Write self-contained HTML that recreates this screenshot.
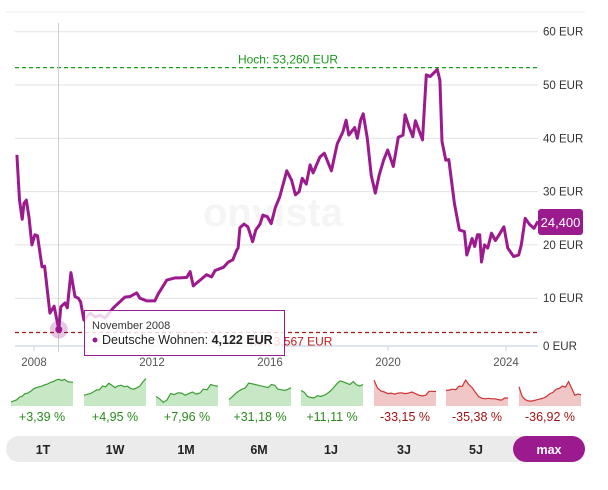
<!DOCTYPE html>
<html><head><meta charset="utf-8"><style>
body{margin:0;background:#fff;font-family:"Liberation Sans",sans-serif;}
#wrap{position:relative;width:608px;height:490px;overflow:hidden;}
svg text{font-family:"Liberation Sans",sans-serif;}
</style></head><body>
<div id="wrap">
<svg id="chart" width="608" height="490"></svg>
</div>
<script>
const years=[2007.42,2007.51,2007.60,2007.66,2007.74,2007.83,2007.93,2008.03,2008.12,2008.27,2008.36,2008.54,2008.68,2008.84,2008.91,2009.05,2009.13,2009.25,2009.39,2009.50,2009.58,2009.69,2009.90,2010.07,2010.24,2010.41,2010.69,2011.08,2011.25,2011.48,2011.59,2011.82,2012.10,2012.21,2012.50,2012.78,2012.95,2013.18,2013.29,2013.40,2013.63,2013.85,2014.02,2014.14,2014.42,2014.59,2014.74,2014.87,2014.92,2014.98,2015.12,2015.25,2015.41,2015.52,2015.66,2015.76,2015.91,2016.04,2016.18,2016.33,2016.57,2016.73,2016.86,2016.99,2017.09,2017.23,2017.36,2017.46,2017.69,2017.84,2018.08,2018.28,2018.47,2018.58,2018.67,2018.87,2018.96,2019.07,2019.16,2019.30,2019.43,2019.57,2019.70,2019.85,2019.99,2020.18,2020.35,2020.51,2020.58,2020.71,2020.84,2020.93,2021.17,2021.30,2021.43,2021.67,2021.76,2021.83,2021.96,2022.06,2022.25,2022.42,2022.59,2022.67,2022.85,2022.94,2023.03,2023.11,2023.17,2023.27,2023.38,2023.51,2023.64,2023.80,2023.93,2024.06,2024.26,2024.43,2024.52,2024.65,2024.79,2024.95,2025.08];
const prices=[36.9,28.4,24.8,27.8,28.4,25.2,20,21.9,21.7,15.9,16,7.2,8.5,4.122,8.4,9.1,8.2,14.8,10.3,10,9.3,5.9,7.2,6.5,6.8,6.3,8.2,10.2,10.3,11,10,9.5,9.5,10.8,13.4,13.8,13.8,13.9,15,12.3,13.4,14.4,14,15.2,15.8,16.8,17.2,19,19.4,23.2,23.9,23.4,20.6,22.8,23.9,25.6,25.3,24,27,29,33.9,32.2,29.4,30,32.5,31.4,35,33.5,36.5,37.2,33.9,39,41.2,43.4,40.6,42,40,43.4,44.6,40,33.1,29.7,33.1,35.9,37.8,34.7,40.2,40.6,44.4,42.2,40.3,43.3,39.7,51.9,51.6,52.9,50.9,39.4,35.9,36,27.8,22.8,22.5,18.1,21.2,19.7,21.9,21.9,16.8,20,19.4,22.2,20.8,22.2,23.4,19.4,17.8,18.1,20,25,23.9,23.1,24.4];
const yTicks=[0,10,20,30,40,50,60];
const xTicks=[2008,2012,2016,2020,2024];
const highValue=53.26, lowValue=3.567, lastValue="24,400";
const sparkLabels=["+3,39 %","+4,95 %","+7,96 %","+31,18 %","+11,11 %","-33,15 %","-35,38 %","-36,92 %"];
const sparkData=[
[.08,.12,.16,.26,.30,.40,.42,.49,.58,.63,.66,.69,.74,.77,.83,.86,.92,.95,.90,.95,.86,.84,.84],
[.34,.37,.40,.46,.54,.55,.69,.66,.80,.72,.63,.70,.72,.66,.69,.60,.57,.62,.69,.85,.98],
[.29,.20,.06,.15,.40,.36,.43,.42,.34,.40,.46,.38,.42,.57,.55,.75,.70,.69],
[.17,.28,.40,.50,.57,.62,.80,.78,.75,.72,.69,.66,.63,.75,.72,.57,.55,.52,.56,.63],
[.52,.45,.29,.25,.23,.32,.29,.33,.40,.50,.63,.78,.89,.85,.80,.75,.86,.74,.69,.75],
[.92,.62,.50,.46,.40,.42,.38,.42,.43,.40,.42,.46,.40,.34,.31,.34,.49,.49,.48],
[.52,.54,.57,.55,.69,.68,.92,.75,.63,.45,.29,.22,.20,.22,.20,.20,.17,.15,.23,.23],
[.66,.30,.17,.12,.11,.14,.17,.20,.23,.30,.40,.45,.57,.60,.69,.65,.86,.60,.34,.38,.36]];
const periods=["1T","1W","1M","6M","1J","3J","5J","max"];

const NS="http://www.w3.org/2000/svg";
const svg=document.getElementById('chart');
function el(tag,attrs,parent){const e=document.createElementNS(NS,tag);for(const k in attrs)e.setAttribute(k,attrs[k]);(parent||svg).appendChild(e);return e;}
const X=t=>34+(t-2008)*29.5;
const Y=v=>351.5-v*5.33;

let e;
e=el('line',{x1:6,x2:585,y1:12,y2:12,stroke:'#ececec','stroke-width':1});


yTicks.forEach(v=>{
 if(v>0){e=el('line',{x1:15,x2:538,y1:Y(v),y2:Y(v),stroke:'#e2e2e2','stroke-width':1});
 
 }
 e=el('text',{x:543,y:(v===0?346:Y(v))+4,'font-size':11.5,fill:'#333'});e.textContent=v+' EUR';
 
 
});
e=el('line',{x1:15,x2:538,y1:346,y2:346,stroke:'#c9d3e6','stroke-width':1.2});


xTicks.forEach(t=>{
 e=el('line',{x1:X(t),x2:X(t),y1:346,y2:351,stroke:'#c9d3e6'});
 
 
 e=el('text',{x:X(t),y:366,'font-size':11.5,fill:'#555','text-anchor':'middle'});e.textContent=t;
 
 
});
e=el('text',{x:273,y:226,'font-size':40,'font-weight':'bold',fill:'#f5f5f5','text-anchor':'middle'});e.textContent='onvista';


e=el('line',{x1:15,x2:538,y1:Y(highValue),y2:Y(highValue),stroke:'#1a9e1a','stroke-width':1.2,'stroke-dasharray':'4,3'});


e=el('text',{x:288,y:Y(highValue)-4,'font-size':12,fill:'#1a9a1a','text-anchor':'middle'});e.textContent='Hoch: 53,260 EUR';


e=el('line',{x1:15,x2:538,y1:Y(lowValue),y2:Y(lowValue),stroke:'#a01a1a','stroke-width':1.2,'stroke-dasharray':'4,3'});


e=el('text',{x:290,y:Y(lowValue)+13,'font-size':12,fill:'#c21c1c','text-anchor':'middle'});e.textContent='Tief: 3,567 EUR';


e=el('line',{x1:58.5,x2:58.5,y1:23,y2:352,stroke:'#cfcfcf','stroke-width':1});


let d=years.map((t,i)=>(i?'L':'M')+X(t).toFixed(1)+','+Y(prices[i]).toFixed(1)).join('');
e=el('path',{d:d,fill:'none',stroke:'#9b1b8e','stroke-width':3,'stroke-linejoin':'round'});


const hi=years.indexOf(2008.84);
e=el('circle',{cx:X(years[hi]),cy:Y(prices[hi]),r:9,fill:'rgba(155,27,142,0.25)'});


e=el('circle',{cx:X(years[hi]),cy:Y(prices[hi]),r:3.5,fill:'#9b1b8e'});


// tooltip
e=el('rect',{x:84.5,y:310.5,width:200,height:45,fill:'rgba(255,255,255,0.82)',stroke:'#9b1b8e','stroke-width':1});


e=el('text',{x:92,y:329,'font-size':11,fill:'#333'});e.textContent='November 2008';


e=el('circle',{cx:95,cy:340,r:2.5,fill:'#9b1b8e'});


e=el('text',{x:102,y:344,'font-size':12.5,fill:'#222'});e.innerHTML='Deutsche Wohnen: <tspan font-weight="bold">4,122 EUR</tspan>';


// last price tag
e=el('rect',{x:538,y:209,width:45,height:26,rx:3,fill:'#9b1b8e'});


e=el('text',{x:560.5,y:227,'font-size':13,fill:'#fff','text-anchor':'middle'});e.textContent=lastValue;


// sparklines
const sx=[11,84,156,229,301,374,446,519];
sparkData.forEach((arr,i)=>{
 const up=sparkLabels[i][0]==='+';
 const x0=sx[i],w=62,top=377,bot=406;
 const pts=arr.map((v,j)=>[x0+j*w/(arr.length-1),bot-2-v*(bot-top-3)]);
 const line=pts.map((p,j)=>(j?'L':'M')+p[0].toFixed(1)+','+p[1].toFixed(1)).join('');
 e=el('path',{d:line+'L'+(x0+w)+','+bot+'L'+x0+','+bot+'Z',fill:up?'#c6e8c4':'#f0c6c6'});
 
 
 e=el('path',{d:line,fill:'none',stroke:up?'#3a9e32':'#cc3333','stroke-width':1.2});
 
 
 e=el('text',{x:x0+w/2,y:421,'font-size':12.5,fill:up?'#2a8a1e':'#9e1010','text-anchor':'middle'});e.textContent=sparkLabels[i];
 
 
});
// period buttons
e=el('rect',{x:6,y:436,width:579,height:26,rx:13,fill:'#ebebeb'});


const bx=[43,115,186,259,331,404,476,549];
periods.forEach((p,i)=>{
 if(p==='max'){e=el('rect',{x:513,y:436,width:72,height:26,rx:13,fill:'#9b1b8e'});
 
 }
 e=el('text',{x:bx[i],y:454,'font-size':12.5,'font-weight':'bold',fill:p==='max'?'#fff':'#222','text-anchor':'middle'});e.textContent=p;
 
 
});
</script>
</body></html>
